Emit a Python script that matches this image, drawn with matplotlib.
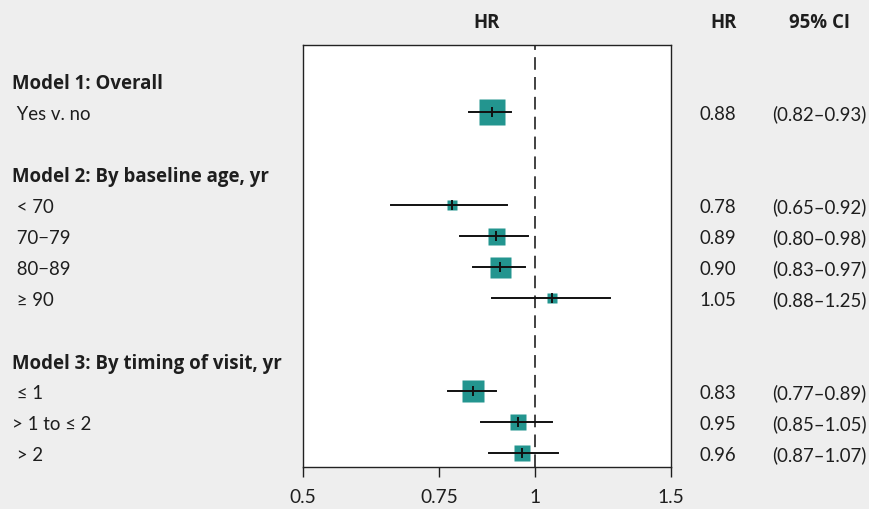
import numpy as np
import matplotlib.pyplot as plt

plt.rcParams['font.family'] = ['Lato', 'DejaVu Sans']

headers = ["Model 1: Overall", "Model 2: By baseline age, yr", "Model 3: By timing of visit, yr"]
header_rows = [1, 4, 10]

labels = [" Yes v. no", " < 70", " 70\u221279", " 80\u221289", " \u2265 90", " \u2264 1", "> 1 to \u2264 2", " > 2"]
rows = [2, 5, 6, 7, 8, 11, 12, 13]
hr = [0.88, 0.78, 0.89, 0.90, 1.05, 0.83, 0.95, 0.96]
lo = [0.82, 0.65, 0.80, 0.83, 0.88, 0.77, 0.85, 0.87]
hi = [0.93, 0.92, 0.98, 0.97, 1.25, 0.89, 1.05, 1.07]
box_px = [26, 10, 17, 21, 10, 23, 16, 16]  # relative weight of each estimate

xticks = [0.5, 0.75, 1, 1.5]
xtick_labels = ["0.5", "0.75", "1", "1.5"]

bg = "#eeeeee"
teal = "#23958f"
ink = "#1e1e1e"
bold_font = ["Open Sans", "DejaVu Sans"]

fig = plt.figure(figsize=(8.7, 5.1), dpi=100, facecolor=bg)
ax = fig.add_axes([303 / 870, 1 - 468 / 510, 368 / 870, 422 / 510])
ax.set_facecolor("white")
ax.set_xscale("log")
ax.set_xlim(0.5, 1.5)
ax.set_ylim(13.45, -0.16)

ax.axvline(1, color="#333333", lw=1.3, ls=(0, (7, 4)), zorder=1)

for y, h, l, u, s in zip(rows, hr, lo, hi, box_px):
    ax.plot(h, y, marker="s", ms=s * 0.72, color=teal, mec="none", zorder=2)
    ax.plot([l, u], [y, y], color="#111111", lw=1.4, zorder=3)
    ax.plot(h, y, marker="|", ms=7, mew=1.4, color="#111111", zorder=4)

ax.set_xticks(xticks)
ax.set_xticklabels(xtick_labels)
ax.xaxis.set_minor_locator(plt.NullLocator())
ax.set_yticks([])
ax.tick_params(axis="x", length=7, width=1, labelsize=13.8, colors=ink, pad=8)
for sp in ax.spines.values():
    sp.set_color("#222222")
    sp.set_linewidth(1)

fs = 13.4
fsb = 13.4

def fy(r):
    return ax.transData.transform((1, r))[1] / 510

fig.canvas.draw()
for txt, r in zip(headers, header_rows):
    fig.text(12 / 870, fy(r), txt, fontsize=fsb, fontweight="bold", family=bold_font,
             va="center_baseline", color=ink)
for txt, r, h, l, u in zip(labels, rows, hr, lo, hi):
    fig.text(12 / 870, fy(r), txt, fontsize=fs, va="center_baseline", color=ink)
    fig.text(699 / 870, fy(r), f"{h:.2f}", fontsize=fs, va="center_baseline", color=ink)
    fig.text(772 / 870, fy(r), f"({l:.2f}\u2013{u:.2f})", fontsize=fs, va="center_baseline", color=ink)

for x, txt in [(487, "HR"), (724, "HR"), (820, "95% CI")]:
    fig.text(x / 870, 1 - 20 / 510, txt, fontsize=fsb, fontweight="bold", family=bold_font,
             ha="center", va="center_baseline", color=ink)

fig.savefig("out.png", dpi=100, facecolor=bg)
